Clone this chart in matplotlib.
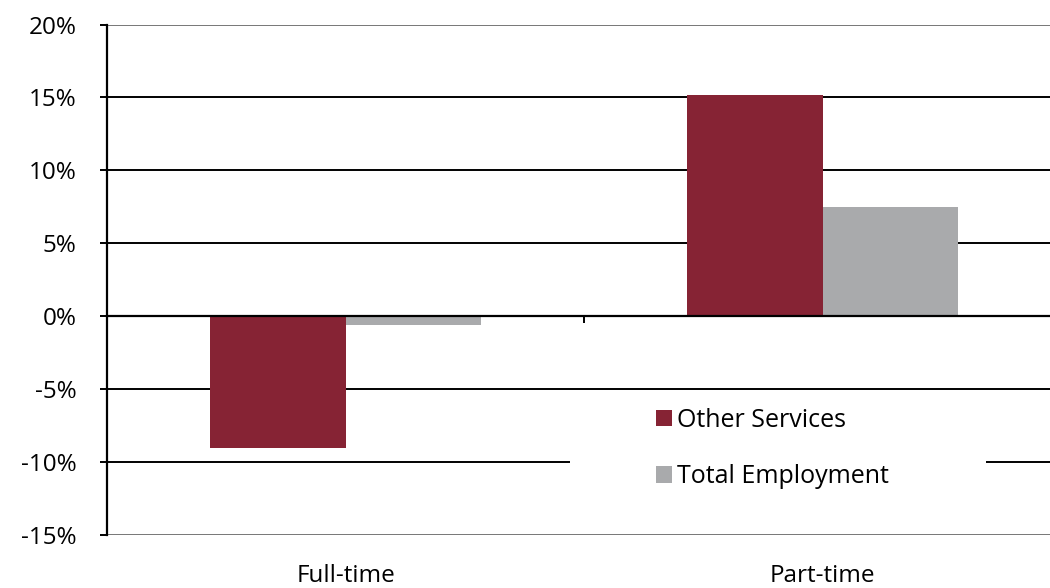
import matplotlib
matplotlib.use("Agg")
import matplotlib.pyplot as plt
import numpy as np
from matplotlib.patches import Rectangle

# 数据
categories = ["Full-time", "Part-time"]
other_services = [-9.0, 15.2]
total_employment = [-0.6, 7.5]
y_ticks = [-15, -10, -5, 0, 5, 10, 15, 20]

c_other = "#862334"
c_total = "#A9AAAC"

plt.rcParams['font.family'] = ['Open Sans', 'DejaVu Sans']

fig = plt.figure(figsize=(10.5, 5.88), dpi=100)
ax = fig.add_axes([0.1019, 0.0901, 0.9086, 0.8682])

x = np.arange(len(categories))
w = 0.285
ax.bar(x - w / 2, other_services, w, color=c_other, zorder=3, label="Other Services")
ax.bar(x + w / 2, total_employment, w, color=c_total, zorder=3, label="Total Employment")

ax.set_xlim(-0.5, 1.5)
ax.set_ylim(-15, 20)

# 网格线
for v in y_ticks:
    if v == 0:
        continue
    col = "#777777" if v in (-15, 20) else "black"
    ax.axhline(v, color=col, lw=1.4, zorder=1)

for side in ("top", "right"):
    ax.spines[side].set_visible(False)
ax.spines['left'].set_linewidth(1.6)
ax.spines['bottom'].set_position(('data', 0))
ax.spines['bottom'].set_linewidth(1.6)
ax.spines['bottom'].set_zorder(4)

ax.set_yticks(y_ticks)
ax.set_yticklabels([f"{v}%" for v in y_ticks])
ax.tick_params(axis='y', length=5, width=1.4, pad=17, labelsize=17.5, direction='out')
ax.set_xticks([0.5])
ax.set_xticklabels([""])
ax.tick_params(axis='x', length=5, width=1.4, direction='out')

for xi, name in zip(x, categories):
    ax.text(xi, -0.057, name, transform=ax.get_xaxis_transform(),
            ha='center', va='top', fontsize=17.5, clip_on=False)

# 图例背景
ax.add_patch(Rectangle((0.485, 0.012), 0.436, 0.272, transform=ax.transAxes,
                       facecolor='white', edgecolor='none', zorder=2))
leg = ax.legend(loc='upper left', bbox_to_anchor=(0.565, 0.269), frameon=False,
                fontsize=18, handlelength=0.65, handleheight=0.65,
                handletextpad=0.2, labelspacing=1.25, borderaxespad=0)
leg.set_zorder(5)

fig.savefig("out.png", dpi=100)
